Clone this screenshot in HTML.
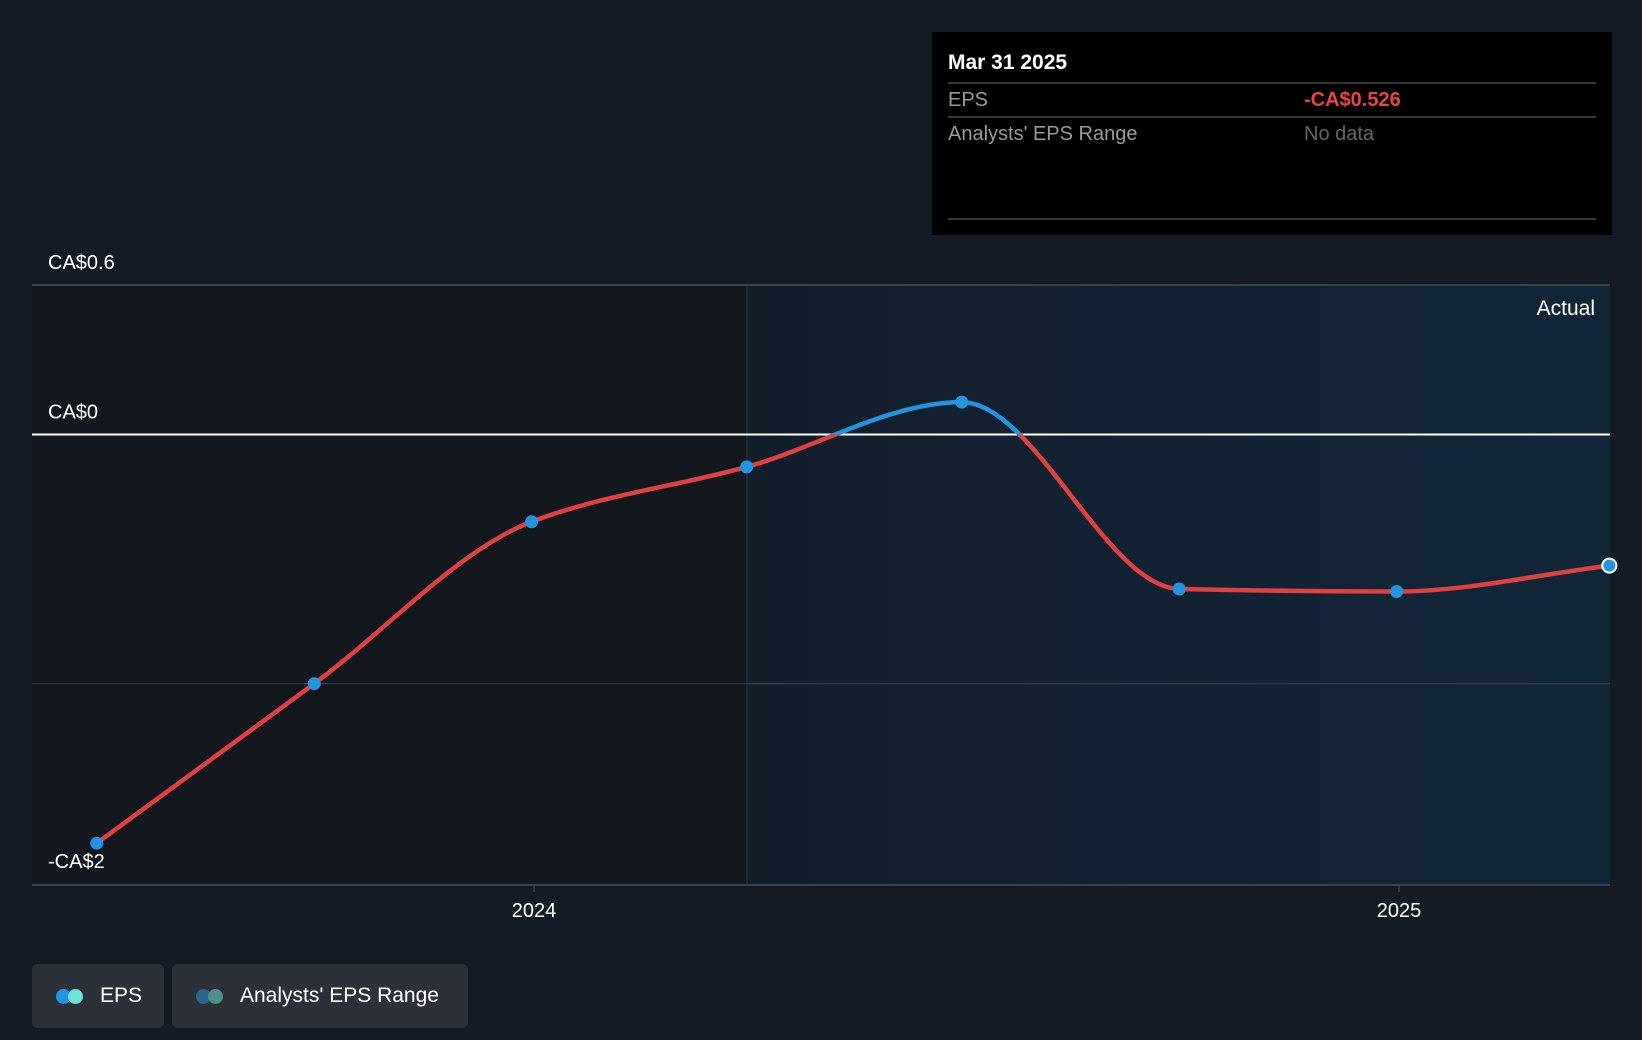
<!DOCTYPE html>
<html><head><meta charset="utf-8"><style>
html,body{margin:0;padding:0;background:#151b24;width:1642px;height:1040px;overflow:hidden;font-family:"Liberation Sans",sans-serif}
svg{position:absolute;left:0;top:0}
.leg{position:absolute;top:964px;height:64px;background:#2c3039;border-radius:6px;color:#fff;font-size:21px;display:flex;align-items:center}
.dot{position:absolute;width:15px;height:15px;border-radius:50%;top:25px}
</style></head><body>
<svg id="chart" width="1642" height="1040">
  <defs>
    <linearGradient id="rg" x1="0" x2="1" y1="0" y2="0">
      <stop offset="0" stop-color="#131e2b"/><stop offset="1" stop-color="#12263a"/>
    </linearGradient>
    <clipPath id="above"><rect x="0" y="0" width="1642" height="434.5"/></clipPath>
    <clipPath id="below"><rect x="0" y="434.5" width="1642" height="700"/></clipPath>
  </defs>
  <rect x="32" y="285" width="715" height="600" fill="#13171e"/>
  <rect x="747" y="285" width="863" height="600" fill="url(#rg)"/>
  <line x1="747" y1="285" x2="747" y2="885" stroke="#1f2f3c" stroke-width="1.5"/>
  <g id="grid"></g>
  <g id="lines"></g>
  <g id="points"></g>
  <g id="labels"></g>
  <text x="1595" y="315" fill="#fff" font-size="21" text-anchor="end">Actual</text>
  <g>
    <rect x="932" y="32" width="680" height="203" fill="#000"/>
    <text x="948" y="69" fill="#fff" font-size="21" font-weight="bold">Mar 31 2025</text>
    <line x1="948" y1="83" x2="1596" y2="83" stroke="#444" stroke-width="1.5"/>
    <text x="948" y="106" fill="#9a9a9a" font-size="20">EPS</text>
    <text x="1304" y="106" fill="#e84545" font-size="20" font-weight="bold">-CA$0.526</text>
    <line x1="948" y1="117" x2="1596" y2="117" stroke="#444" stroke-width="1.5"/>
    <text x="948" y="140" fill="#9a9a9a" font-size="20">Analysts' EPS Range</text>
    <text x="1304" y="140" fill="#666" font-size="20">No data</text>
    <line x1="948" y1="219" x2="1596" y2="219" stroke="#444" stroke-width="1.5"/>
  </g>
</svg>
<div class="leg" style="left:32px;width:132px">
  <span class="dot" style="left:24px;background:#2394df"></span><span class="dot" style="left:36px;background:#6fe3d3"></span>
  <span style="position:absolute;left:68px">EPS</span></div>
<div class="leg" style="left:172px;width:296px">
  <span class="dot" style="left:24px;background:#2a6590"></span><span class="dot" style="left:36px;background:#4e8f88"></span>
  <span style="position:absolute;left:68px">Analysts' EPS Range</span></div>
<script>
const dates=["2023-06-30","2023-09-30","2023-12-31","2024-03-31","2024-06-30","2024-09-30","2024-12-31","2025-03-31"];
const eps=[-1.64,-1.00,-0.35,-0.13,0.13,-0.62,-0.63,-0.526];
const yTicks=[0.6,0,-1];
const yTickLabels=["CA$0.6","CA$0",""];
const xTicks=["2024-01-01","2025-01-01"];
const xTickLabels=["2024","2025"];
const NS="http://www.w3.org/2000/svg";
function T(d){return new Date(d+"T00:00:00Z").getTime();}
const t0=T("2024-01-01"),t1=T("2025-01-01");
function xS(d){return 534+(T(d)-t0)/(t1-t0)*865;}
function yS(v){return 434.5-v*249.2;}
function mk(tag,attrs,parent){const e=document.createElementNS(NS,tag);for(const k in attrs)e.setAttribute(k,attrs[k]);parent.appendChild(e);return e;}
const grid=document.getElementById('grid'),labels=document.getElementById('labels');
yTicks.forEach((v,i)=>{
  const l=mk('line',{x1:32,x2:1610,y1:yS(v),y2:yS(v),stroke:v===0?'#ffffff':'#3a414b','stroke-width':v===0?2:(i===0?2:1.2)},grid);
  
  
  if(yTickLabels[i]){const t=mk('text',{x:48,y:yS(v)-16,fill:'#fff','font-size':20},labels);t.textContent=yTickLabels[i];
  
  }
});
const bl=mk('text',{x:48,y:868,fill:'#fff','font-size':20},labels);bl.textContent="-CA$2";


const ax=mk('line',{x1:32,x2:1610,y1:885,y2:885,stroke:'#3a414b','stroke-width':2},grid);


xTicks.forEach((d,i)=>{
  mk('line',{x1:xS(d),x2:xS(d),y1:885,y2:892,stroke:'#3a414b','stroke-width':1.5},grid);
  const t=mk('text',{x:xS(d),y:917,fill:'#fff','font-size':20,'text-anchor':'middle'},labels);t.textContent=xTickLabels[i];
  
  
});
// monotone cubic path
const P=dates.map((d,i)=>[xS(d),yS(eps[i])]);
function monotone(p){const n=p.length,m=[],dx=[],s=[];
  for(let i=0;i<n-1;i++){dx[i]=p[i+1][0]-p[i][0];s[i]=(p[i+1][1]-p[i][1])/dx[i];}
  m[0]=s[0];m[n-1]=s[n-2];
  for(let i=1;i<n-1;i++){m[i]=s[i-1]*s[i]<=0?0:3*(dx[i-1]+dx[i])/((2*dx[i]+dx[i-1])/s[i-1]+(dx[i]+2*dx[i-1])/s[i]);}
  let d=`M${p[0][0]},${p[0][1]}`;
  for(let i=0;i<n-1;i++){const h=dx[i]/3;d+=`C${p[i][0]+h},${p[i][1]+m[i]*h} ${p[i+1][0]-h},${p[i+1][1]-m[i+1]*h} ${p[i+1][0]},${p[i+1][1]}`;}
  return d;}
const dpath=monotone(P),lines=document.getElementById('lines');
const lb=mk('path',{d:dpath,fill:'none',stroke:'#e04040','stroke-width':4.5,'clip-path':'url(#below)'},lines);


const la=mk('path',{d:dpath,fill:'none',stroke:'#2394df','stroke-width':4.5,'clip-path':'url(#above)'},lines);


const pts=document.getElementById('points');
P.forEach((p,i)=>{const last=i===P.length-1;
  const c=mk('circle',{cx:p[0],cy:p[1],r:last?7:6.5,fill:'#2394df',stroke:last?'#fff':'none','stroke-width':2},pts);
  
  });
</script>
</body></html>
